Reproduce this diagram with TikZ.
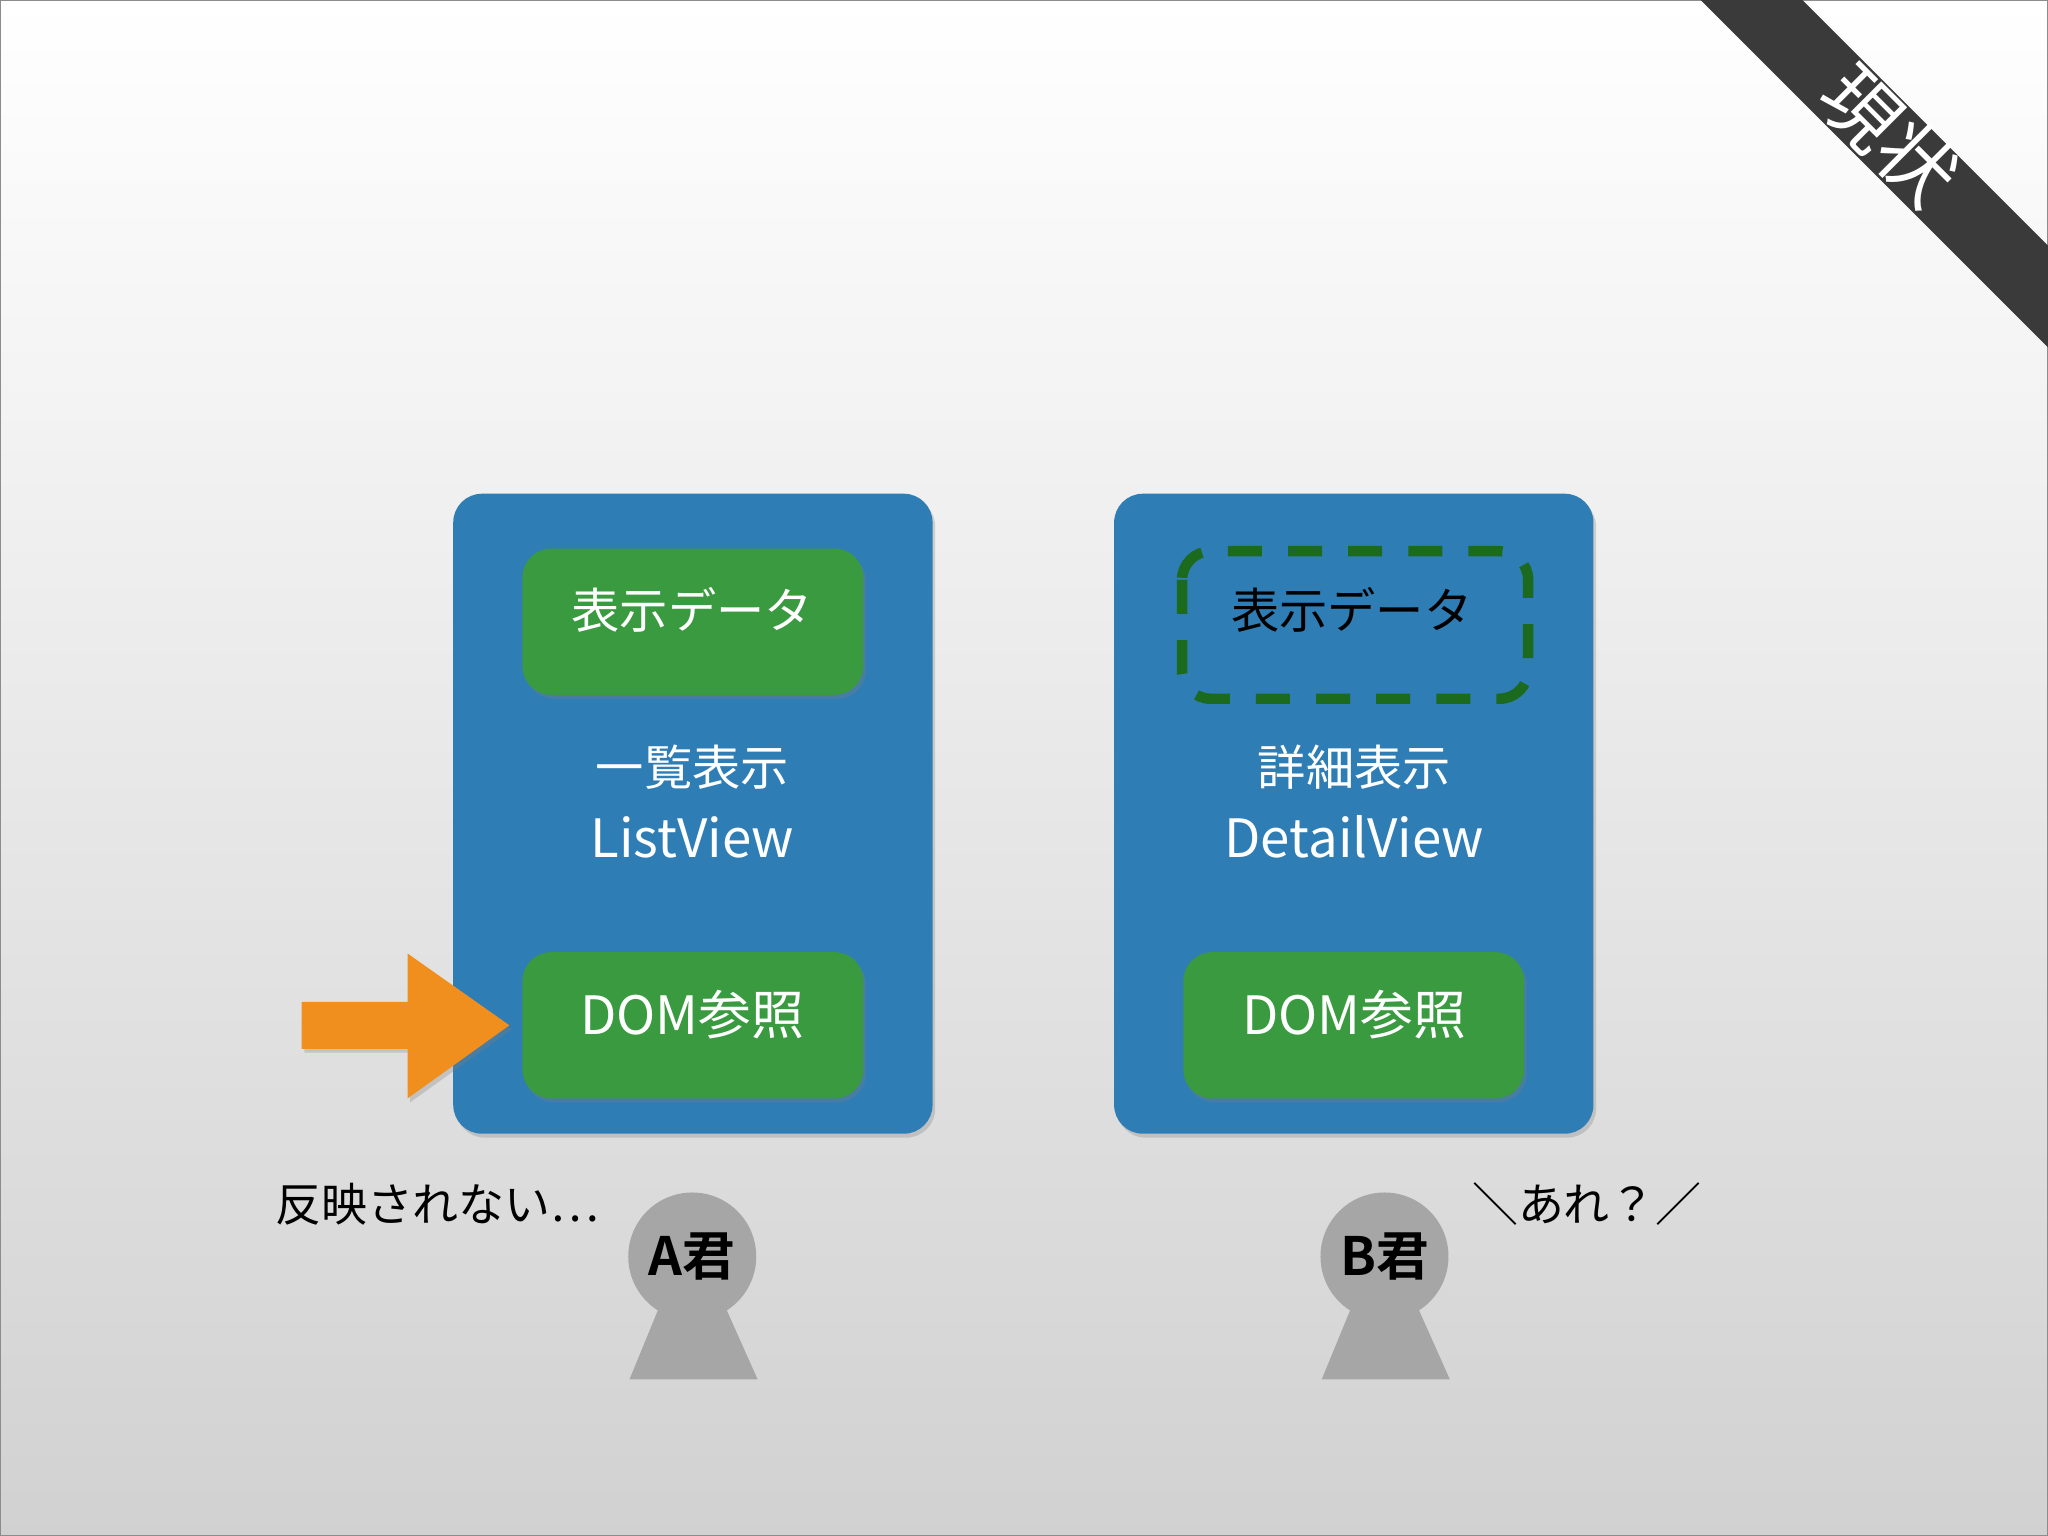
\documentclass[tikz,border=0pt]{standalone}
\usepackage{fontspec}
\setmainfont{Noto Sans CJK JP}
\newfontfamily\jpbold{Noto Sans CJK JP Bold}
\usetikzlibrary{shadows}
\definecolor{bluec}{HTML}{2F7DB5}
\definecolor{greenc}{HTML}{3A9A40}
\definecolor{dgreen}{HTML}{1C6A1E}
\definecolor{orangec}{HTML}{F08F1E}
\definecolor{personc}{HTML}{A6A6A6}
\definecolor{bannerc}{HTML}{3A3A3A}
\tikzset{
 card/.style={fill=bluec,rounded corners=0.22cm,drop shadow={opacity=0.3,shadow xshift=0.02cm,shadow yshift=-0.03cm}},
 gbox/.style={fill=greenc,rounded corners=0.22cm,drop shadow={opacity=0.3,shadow xshift=0.02cm,shadow yshift=-0.03cm}},
 wtxt/.style={text=white,font=\fontsize{10.5pt}{12pt}\selectfont,inner sep=0},
 ltxt/.style={text=white,font=\fontsize{11.5pt}{13pt}\selectfont,inner sep=0},
 ptxt/.style={text=black,font=\jpbold\fontsize{11.5pt}{13pt}\selectfont,inner sep=0},
 person/.style={fill=personc}
}
\begin{document}
\begin{tikzpicture}[x=0.01cm,y=-0.01cm]
\shade[top color=white,bottom color=black!18] (0,0) rectangle (1568,1176);
\useasboundingbox (0,0) rectangle (1568,1176);
\draw[black!45,line width=0.3pt] (0.5,0.5) rectangle (1567.5,1175.5);
% banner
\fill[bannerc] (1302,0) -- (1380,0) -- (1568,188) -- (1568,266) -- cycle;
\node[text=white,rotate=-45,font=\fontsize{17pt}{19pt}\selectfont,inner sep=0] (banner) at (1447,104) {現状};
% left card
\path[card] (347,378) rectangle (714,868);
\path[gbox] (400,420) rectangle (661,532);
\path[gbox] (400,729) rectangle (661,841);
\node[wtxt] (l1) at (530,467) {表示データ};
\node[wtxt] (l2) at (530,587) {一覧表示};
\node[ltxt] (l3) at (530,641) {ListView};
\node[ltxt] (l4) at (530,777) {DOM参照};
% right card
\path[card] (853,378) rectangle (1220,868);
\draw[dgreen,line width=0.08cm,dash pattern=on 0.26cm off 0.2cm,rounded corners=0.22cm] (905,422) rectangle (1170,535);
\path[gbox] (906,729) rectangle (1167,841);
\node[wtxt,text=black] (r1) at (1035,467) {表示データ};
\node[wtxt] (r2) at (1037,587) {詳細表示};
\node[ltxt] (r3) at (1037,641) {DetailView};
\node[ltxt] (r4) at (1037,777) {DOM参照};
% arrow
\fill[orangec,drop shadow={opacity=0.3,shadow xshift=0.02cm,shadow yshift=-0.03cm}] (231,767) -- (312,767) -- (312,730) -- (390,785) -- (312,841) -- (312,803) -- (231,803) -- cycle;
% persons
\fill[person] (505,1000) -- (555,1000) -- (580,1056) -- (482,1056) -- cycle;
\fill[person] (530,962) circle (49);
\node[ptxt] (pa) at (530,962) {A君};
\fill[person] (1035,1000) -- (1085,1000) -- (1110,1056) -- (1012,1056) -- cycle;
\fill[person] (1060,962) circle (49);
\node[ptxt] (pb) at (1060,962) {B君};
\node[text=black,font=\fontsize{10pt}{12pt}\selectfont,inner sep=0,anchor=west] (sa) at (210,922) {反映されない…};
\node[text=black,font=\fontsize{10pt}{12pt}\selectfont,inner sep=0] (sb) at (1215,922) {＼あれ？／};
\end{tikzpicture}
\end{document}
